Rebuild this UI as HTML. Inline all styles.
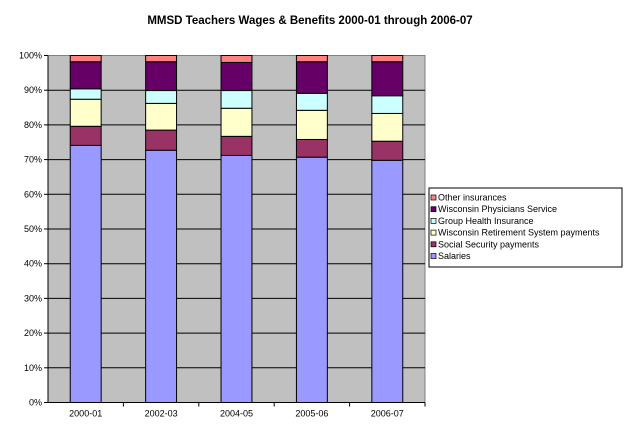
<!DOCTYPE html>
<html><head><meta charset="utf-8"><style>
body{margin:0;background:#fff;font-family:"Liberation Sans",sans-serif;}
svg text{font-family:"Liberation Sans",sans-serif;}
</style></head><body>
<svg id="chart" width="625" height="424" xmlns="http://www.w3.org/2000/svg">
<text x="310" y="24" text-anchor="middle" font-size="11.5" font-weight="bold">MMSD Teachers Wages &amp; Benefits 2000-01 through 2006-07</text>
<rect x="48" y="55.5" width="377" height="347" fill="#C0C0C0" stroke="#808080"/>
<g id="grid"></g><g id="bars"></g><g id="axes"></g>
<rect x="429" y="188" width="193" height="79" fill="#fff" stroke="#000"/>
<g id="legend"></g>
</svg>
<script>
const categories=["2000-01","2002-03","2004-05","2005-06","2006-07"];
const seriesNames=["Salaries","Social Security payments","Wisconsin Retirement System payments","Group Health Insurance","Wisconsin Physicians Service","Other insurances"];
const salaries=[74.1,72.7,71.2,70.7,69.8];
const socialSecurity=[5.5,5.8,5.5,5.1,5.5];
const wrs=[7.8,7.7,8.1,8.4,8.0];
const groupHealth=[3.0,3.7,5.1,4.9,5.1];
const wps=[7.8,8.3,8.1,9.1,9.8];
const otherIns=[1.8,1.8,2.0,1.8,1.8];
const yTicks=[0,10,20,30,40,50,60,70,80,90,100];
const colors=["#9999FF","#993366","#FFFFCC","#CCFFFF","#660066","#FF8080"];
const series=[salaries,socialSecurity,wrs,groupHealth,wps,otherIns];
const NS="http://www.w3.org/2000/svg";
const X0=48,X1=425,Y0=402.5,Y1=55.5;
const yS=v=>Y0-(v/100)*(Y0-Y1);
const band=(X1-X0)/categories.length;
const xC=i=>X0+band*(i+0.5);
const bw=band*0.41;
function mk(t,a,p){const e=document.createElementNS(NS,t);for(const k in a)e.setAttribute(k,a[k]);p.appendChild(e);return e;}
const grid=document.getElementById('grid'),axes=document.getElementById('axes'),bars=document.getElementById('bars'),leg=document.getElementById('legend');
yTicks.forEach(t=>{
 if(t>0&&t<100){const l=mk('line',{x1:X0,x2:X1,y1:yS(t),y2:yS(t),stroke:'#000','stroke-width':1},grid);
 
 }
 const tk=mk('line',{x1:X0-4,x2:X0,y1:yS(t),y2:yS(t),stroke:'#000'},axes);
 
 
 const tx=mk('text',{x:X0-6,y:yS(t)+3,'text-anchor':'end','font-size':9},axes);tx.textContent=t+'%';
 
 
});
mk('line',{x1:X0,x2:X0,y1:Y1,y2:Y0,stroke:'#000'},axes);
mk('line',{x1:X0,x2:X1,y1:Y0,y2:Y0,stroke:'#000'},axes);
categories.forEach((c,i)=>{
 const tk=mk('line',{x1:X0+band*(i+1),x2:X0+band*(i+1),y1:Y0,y2:Y0+4,stroke:'#000'},axes);
 
 
 const tx=mk('text',{x:xC(i),y:Y0+14,'text-anchor':'middle','font-size':9},axes);tx.textContent=c;
 
 
 let cum=0;
 series.forEach((s,k)=>{
  const y1=yS(cum+s[i]),y2=yS(cum);cum+=s[i];
  const r=mk('rect',{x:xC(i)-bw/2,y:y1,width:bw,height:y2-y1,fill:colors[k],stroke:'#000','stroke-width':1},bars);
  
  
 });
});
for(let k=seriesNames.length-1,j=0;k>=0;k--,j++){
 const y=199+j*11.7;
 const sw=mk('rect',{x:431,y:y-4,width:5,height:5,fill:colors[k],stroke:'#000','stroke-width':0.7},leg);
 
 
 const tx=mk('text',{x:438,y:y+1.5,'font-size':9},leg);tx.textContent=seriesNames[k];
 
 
}
</script>
</body></html>
